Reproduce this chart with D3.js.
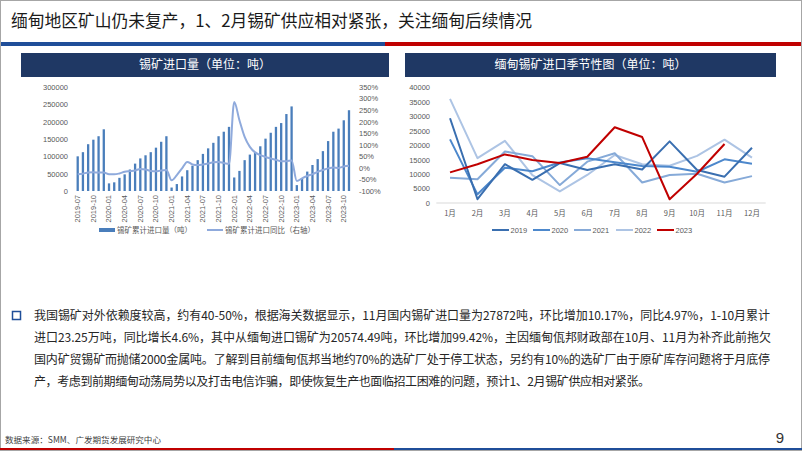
<!DOCTYPE html>
<html><head><meta charset="utf-8">
<script src="https://cdn.jsdelivr.net/npm/d3@7"></script>
<style>body{margin:0;background:#fff}svg{display:block}</style>
</head><body><svg id="c" width="802" height="451"></svg>
<script>
// ---------- data ----------
const months = ["2019-07","2019-08","2019-09","2019-10","2019-11","2019-12",
"2020-01","2020-02","2020-03","2020-04","2020-05","2020-06","2020-07","2020-08","2020-09","2020-10","2020-11","2020-12",
"2021-01","2021-02","2021-03","2021-04","2021-05","2021-06","2021-07","2021-08","2021-09","2021-10","2021-11","2021-12",
"2022-01","2022-02","2022-03","2022-04","2022-05","2022-06","2022-07","2022-08","2022-09","2022-10","2022-11","2022-12",
"2023-01","2023-02","2023-03","2023-04","2023-05","2023-06","2023-07","2023-08","2023-09","2023-10","2023-11"];
const importCum = [100000,112000,135000,148000,158000,178000,
22000,25000,38000,48000,62000,79000,94000,103000,112000,125000,142000,158000,
10000,20000,42000,60000,73000,89000,107000,123000,139000,158000,171000,185000,
39000,58000,89000,105000,113000,129000,151000,168000,185000,196000,222000,244000,
17000,35000,56000,75000,92000,115000,144000,171000,180000,204000,233000];
const importYoY = [-28,-25,-20,-19,-20,-20,
-28,-28,-24,-17,-14,-11,-5,-7,-13,-15,-11,-9,
-54,-31,-2,26,15,12,15,19,24,26,21,18,
285,206,134,91,67,55,47,41,35,29,29,32,
-57,-45,-35,-27,-17,-9,-2,2,0,6,9];
const xTickLabels = ["2019-07","2019-10","2020-01","2020-04","2020-07","2020-10","2021-01","2021-04","2021-07","2021-10","2022-01","2022-04","2022-07","2022-10","2023-01","2023-04","2023-07","2023-10"];
const leftTicks = [0,50000,100000,150000,200000,250000,300000];
const yoyTicks = [-100,-50,0,50,100,150,200,250,300,350];

const seasonMonths = ["1月","2月","3月","4月","5月","6月","7月","8月","9月","10月","11月","12月"];
const seasonTicks = [0,5000,10000,15000,20000,25000,30000,35000,40000];
const y2019 = [29300,1300,13400,8000,13800,11400,13400,11600,21300,11400,9100,19100];
const y2020 = [22000,3000,12200,11000,14000,15500,14100,12800,12500,10800,15100,13600];
const y2021 = [8700,8200,17800,16200,6200,14300,17200,7100,9700,10100,7100,9300];
const y2022 = [36000,15500,21500,9600,4000,9700,16600,13400,12900,16300,21900,15700];
const y2023 = [10600,13400,16800,14900,13800,16000,26200,22800,1300,10100,20400];
const seriesNames = ["2019","2020","2021","2022","2023"];
const seriesColors = ["#3a6fb0","#4d88cc","#86aad8","#adc4e4","#c00000"];

const titleText = "缅甸地区矿山仍未复产，1、2月锡矿供应相对紧张，关注缅甸后续情况";
const paraLines = [
"我国锡矿对外依赖度较高，约有40-50%，根据海关数据显示，11月国内锡矿进口量为27872吨，环比增加10.17%，同比4.97%，1-10月累计",
"进口23.25万吨，同比增长4.6%，其中从缅甸进口锡矿为20574.49吨，环比增加99.42%，主因缅甸佤邦财政部在10月、11月为补齐此前拖欠",
"国内矿贸锡矿而抛储2000金属吨。了解到目前缅甸佤邦当地约70%的选矿厂处于停工状态，另约有10%的选矿厂由于原矿库存问题将于月底停",
"产，考虑到前期缅甸动荡局势以及打击电信诈骗，即使恢复生产也面临招工困难的问题，预计1、2月锡矿供应相对紧张。"];

// ---------- drawing ----------
const svg = d3.select("#c");
const CJK = "'Noto Sans CJK SC','Microsoft YaHei',sans-serif";
const NUM = "'Liberation Sans',Arial,sans-serif";
const AX = "#595959";

svg.append("rect").attr("x",0.5).attr("y",0.5).attr("width",801).attr("height",450)
  .attr("fill","#fff").attr("stroke","#a6a6a6");

svg.append("text").attr("x",11).attr("y",27).attr("font-family",CJK).attr("font-size",17)
  .attr("fill","#1a1a1a").attr("textLength",521).attr("lengthAdjust","spacingAndGlyphs").text(titleText);

svg.append("rect").attr("x",1).attr("y",42).attr("width",384).attr("height",4).attr("fill","#1f4e99");
svg.append("rect").attr("x",385).attr("y",42).attr("width",416).attr("height",4).attr("fill","#c00000");

// chart title boxes
function header(x0,x1,txt){
  svg.append("rect").attr("x",x0).attr("y",53).attr("width",x1-x0).attr("height",24).attr("fill","#1f3864");
  svg.append("text").attr("x",(x0+x1)/2).attr("y",69).attr("text-anchor","middle")
    .attr("font-family",CJK).attr("font-size",12).attr("fill","#fff").text(txt);
}
header(21,389,"锡矿进口量（单位：吨）");
header(405,776,"缅甸锡矿进口季节性图（单位：吨）");

// ---------- left chart ----------
const x = d3.scaleBand().domain(months).range([75.1,351.6]).paddingInner(0.56).paddingOuter(0.28);
const y = d3.scaleLinear().domain([0,300000]).range([191,87]);
const y2 = d3.scaleLinear().domain([-100,350]).range([191,87]);
const cx = m => x(m)+x.bandwidth()/2;

const gL = svg.append("g").attr("transform","translate(71,0)")
  .call(d3.axisLeft(y).tickValues(leftTicks).tickSize(0).tickPadding(3).tickFormat(d3.format("d")));
const gR = svg.append("g").attr("transform","translate(356,0)")
  .call(d3.axisRight(y2).tickValues(yoyTicks).tickSize(0).tickPadding(3).tickFormat(d=>d+"%"));
const gX = svg.append("g").attr("transform","translate(0,193)")
  .call(d3.axisBottom(x).tickValues(xTickLabels).tickSize(0));
gX.selectAll("text").attr("x",-2).attr("y",0).attr("dy","0.32em").attr("transform","rotate(-90)")
  .attr("text-anchor","end");
[gL,gR,gX].forEach(g=>{
  g.select(".domain").remove();
  g.selectAll("text").attr("font-family",NUM).attr("font-size",7.5).attr("fill",AX);
});

svg.append("g").selectAll("rect").data(months).join("rect")
  .attr("x",m=>x(m)).attr("width",x.bandwidth())
  .attr("y",(m,i)=>y(importCum[i])).attr("height",(m,i)=>y(0)-y(importCum[i]))
  .attr("fill","#4a7ebb");

svg.append("path").datum(importYoY)
  .attr("d",d3.line().x((d,i)=>cx(months[i])).y(d=>y2(d)).curve(d3.curveMonotoneX))
  .attr("fill","none").attr("stroke","#8faadc").attr("stroke-width",2);

// left legend
svg.append("rect").attr("x",99).attr("y",228).attr("width",16).attr("height",4).attr("fill","#4a7ebb");
svg.append("text").attr("x",117).attr("y",232.5).attr("font-family",CJK).attr("font-size",7.5)
  .attr("fill",AX).text("锡矿累计进口量（吨）");
svg.append("line").attr("x1",207).attr("x2",223).attr("y1",230).attr("y2",230)
  .attr("stroke","#8faadc").attr("stroke-width",2);
svg.append("text").attr("x",225).attr("y",232.5).attr("font-family",CJK).attr("font-size",7.5)
  .attr("fill",AX).text("锡矿累计进口同比（右轴）");

// ---------- right chart ----------
const xs = d3.scaleBand().domain(seasonMonths).range([436.3,765.7]);
const ys = d3.scaleLinear().domain([0,40000]).range([203,87.3]);
const sx = m => xs(m)+xs.bandwidth()/2;

svg.append("line").attr("x1",436.3).attr("x2",765.7).attr("y1",ys(0)).attr("y2",ys(0))
  .attr("stroke","#d9d9d9").attr("stroke-width",1);
const gS = svg.append("g").attr("transform","translate(433,0)")
  .call(d3.axisLeft(ys).tickValues(seasonTicks).tickSize(0).tickPadding(3).tickFormat(d3.format("d")));
const gSX = svg.append("g").attr("transform","translate(0,203)")
  .call(d3.axisBottom(xs).tickSize(0).tickPadding(7.5));
[gS,gSX].forEach(g=>{
  g.select(".domain").remove();
  g.selectAll("text").attr("font-family",CJK).attr("font-size",7.5).attr("fill",AX);
});
gS.selectAll("text").attr("font-family",NUM);

const seriesData = [y2019,y2020,y2021,y2022,y2023];
const order = [3,2,1,0,4];
const sLine = d3.line().x((d,i)=>sx(seasonMonths[i])).y(d=>ys(d));
order.forEach(k=>{
  svg.append("path").datum(seriesData[k]).attr("d",sLine)
    .attr("fill","none").attr("stroke",seriesColors[k]).attr("stroke-width",2)
    .attr("stroke-linejoin","round");
});
const legX = [492,533,574,616,657];
seriesNames.forEach((n,k)=>{
  svg.append("line").attr("x1",legX[k]).attr("x2",legX[k]+17).attr("y1",230).attr("y2",230)
    .attr("stroke",seriesColors[k]).attr("stroke-width",2);
  svg.append("text").attr("x",legX[k]+18.5).attr("y",232.8).attr("font-family",NUM).attr("font-size",7.5)
    .attr("fill",AX).text(n);
});

// ---------- paragraph ----------
svg.append("rect").attr("x",12.5).attr("y",311.5).attr("width",8).attr("height",8)
  .attr("fill","#fff").attr("stroke","#1f4e99").attr("stroke-width",1.5);
const lineY = [319.5,341.5,364,386];
const lineW = [736,737,736,616];
paraLines.forEach((t,i)=>{
  svg.append("text").attr("x",34).attr("y",lineY[i]).attr("font-family",CJK).attr("font-size",12)
    .attr("fill","#262626").attr("textLength",lineW[i]).attr("lengthAdjust","spacing").text(t);
});

// ---------- footer ----------
svg.append("text").attr("x",5).attr("y",443).attr("font-family",CJK).attr("font-size",8.5)
  .attr("fill","#404040").attr("textLength",156).attr("lengthAdjust","spacingAndGlyphs")
  .text("数据来源：SMM、广发期货发展研究中心");
svg.append("text").attr("x",780).attr("y",443).attr("text-anchor","middle").attr("font-family",NUM)
  .attr("font-size",15).attr("fill","#333").text("9");
svg.append("rect").attr("x",0).attr("y",448).attr("width",394).attr("height",2).attr("fill","#c00000");
svg.append("rect").attr("x",394).attr("y",448).attr("width",408).attr("height",2).attr("fill","#1f4e99");
</script></body></html>
